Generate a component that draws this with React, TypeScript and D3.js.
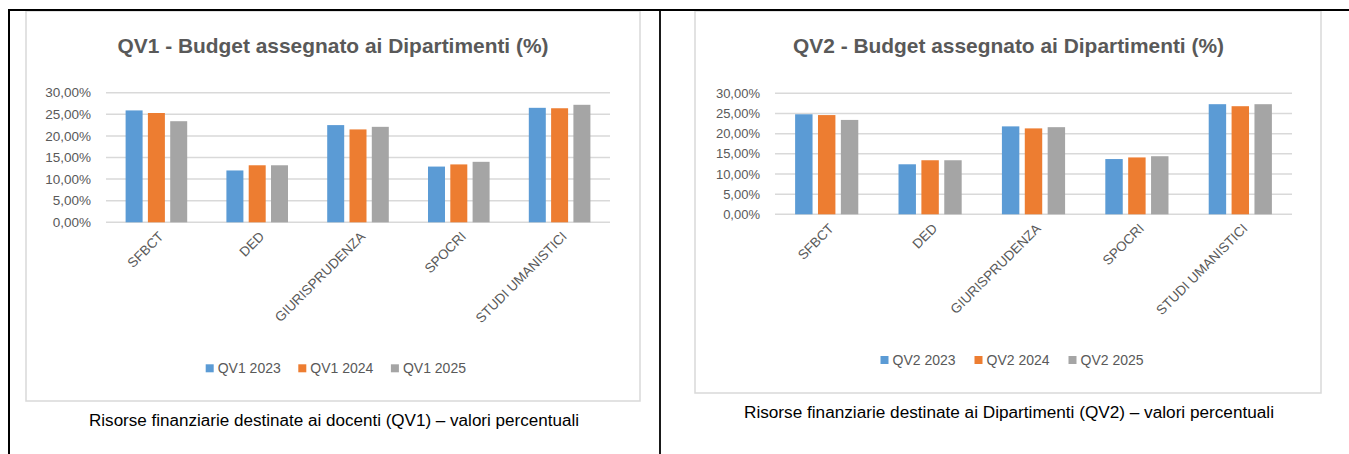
import { useEffect } from 'react';
import * as d3 from 'd3';

// categories and tick values shared by both charts
const categories = ['SFBCT', 'DED', 'GIURISPRUDENZA', 'SPOCRI', 'STUDI UMANISTICI'];
const yTicks = [0, 5, 10, 15, 20, 25, 30];

// QV1 (percent)
const qv1Series = ['QV1 2023', 'QV1 2024', 'QV1 2025'];
const qv1_2023 = [25.9, 12.0, 22.5, 12.9, 26.5];
const qv1_2024 = [25.3, 13.2, 21.5, 13.4, 26.4];
const qv1_2025 = [23.4, 13.2, 22.1, 14.0, 27.2];

// QV2 (percent)
const qv2Series = ['QV2 2023', 'QV2 2024', 'QV2 2025'];
const qv2_2023 = [24.8, 12.4, 21.8, 13.7, 27.3];
const qv2_2024 = [24.6, 13.4, 21.3, 14.1, 26.8];
const qv2_2025 = [23.4, 13.4, 21.6, 14.4, 27.3];

const colors = ['#5B9BD5', '#ED7D31', '#A5A5A5'];
const textGray = '#595959';
const gridGray = '#D9D9D9';
const font = '"Liberation Sans", Arial, sans-serif';

const it = d3.formatLocale({ decimal: ',', thousands: '.', grouping: [3], currency: ['', '€'] });
const fmt = it.format('.2f');

interface Layout {
  box: [number, number, number, number]; // x0, y0, x1, y1
  plotX: [number, number];
  plotY: [number, number]; // top (max), bottom (0)
  titleX: number;
  titleY: number;
  legendX: number; // first swatch x
  legendY: number; // swatch top
  legendStep: number;
  captionX: number;
  captionY: number;
  captionW: number;
  tickFont: number;
}

interface ChartProps {
  title: string;
  caption: string;
  series: string[];
  values: number[][];
  layout: Layout;
}

function BarChart({ title, caption, series, values, layout }: Readonly<ChartProps>) {
  const L = layout;
  const x0 = d3.scaleBand<string>().domain(categories).range(L.plotX).padding(0);
  const groupW = x0.bandwidth() * 0.611;
  const x1 = d3.scaleBand<string>().domain(series).range([0, groupW]).paddingInner(0.238);
  const y = d3.scaleLinear().domain([0, 30]).range([L.plotY[1], L.plotY[0]]);

  return (
    <g>
      <rect
        x={L.box[0]}
        y={L.box[1]}
        width={L.box[2] - L.box[0]}
        height={L.box[3] - L.box[1]}
        fill="#fff"
        stroke={gridGray}
        strokeWidth={1.5}
      />
      <text
        x={L.titleX}
        y={L.titleY}
        textAnchor="middle"
        fontFamily={font}
        fontWeight="bold"
        fontSize={20.5}
        fill={textGray}
        textLength={431}
        lengthAdjust="spacingAndGlyphs"
      >
        {title}
      </text>

      {yTicks.map((t) => (
        <g key={t}>
          <line x1={L.plotX[0]} x2={L.plotX[1]} y1={y(t)} y2={y(t)} stroke={gridGray} strokeWidth={1.5} />
          <text
            x={L.plotX[0] - 15}
            y={y(t)}
            dy="0.35em"
            textAnchor="end"
            fontFamily={font}
            fontSize={L.tickFont}
            fill={textGray}
          >
            {fmt(t) + '%'}
          </text>
        </g>
      ))}

      {categories.map((c, ci) => (
        <g key={c} transform={`translate(${(x0(c) ?? 0) + (x0.bandwidth() - groupW) / 2},0)`}>
          {series.map((s, si) => (
            <rect
              key={s}
              x={x1(s)}
              y={y(values[si][ci])}
              width={x1.bandwidth()}
              height={y(0) - y(values[si][ci])}
              fill={colors[si]}
            />
          ))}
        </g>
      ))}

      {categories.map((c) => (
        <text
          key={c}
          transform={`translate(${(x0(c) ?? 0) + x0.bandwidth() / 2 + 8},${y(0) + 15}) rotate(-45)`}
          textAnchor="end"
          fontFamily={font}
          fontSize={13.5}
          fill={textGray}
        >
          {c}
        </text>
      ))}

      {series.map((s, si) => (
        <g key={s} transform={`translate(${L.legendX + si * L.legendStep},${L.legendY})`}>
          <rect width={8} height={8} fill={colors[si]} />
          <text x={12} y={8.8} fontFamily={font} fontSize={14} fill={textGray}>
            {s}
          </text>
        </g>
      ))}

      <text
        x={L.captionX}
        y={L.captionY}
        textAnchor="middle"
        fontFamily={font}
        fontSize={16}
        fill="#000"
        textLength={L.captionW}
        lengthAdjust="spacingAndGlyphs"
      >
        {caption}
      </text>
    </g>
  );
}

const leftLayout: Layout = {
  box: [26, 11, 640, 401],
  plotX: [106, 610],
  plotY: [92.7, 222.3],
  titleX: 333,
  titleY: 52.5,
  legendX: 205.7,
  legendY: 364.3,
  legendStep: 92.6,
  captionX: 334,
  captionY: 425.5,
  captionW: 490,
  tickFont: 13.5,
};

const rightLayout: Layout = {
  box: [695, 11, 1321, 393],
  plotX: [775, 1292],
  plotY: [93.3, 214.3],
  titleX: 1008.5,
  titleY: 52.5,
  legendX: 880.5,
  legendY: 356,
  legendStep: 94,
  captionX: 1009,
  captionY: 417.5,
  captionW: 530,
  tickFont: 13,
};

export default function App() {
  useEffect(() => {
    document.body.style.margin = '0';
  }, []);

  return (
    <svg width={1349} height={454} style={{ position: 'absolute', left: 0, top: 0, background: '#fff' }}>
      <rect width={1349} height={454} fill="#fff" />
      <BarChart
        title="QV1 - Budget assegnato ai Dipartimenti (%)"
        caption="Risorse finanziarie destinate ai docenti (QV1) – valori percentuali"
        series={qv1Series}
        values={[qv1_2023, qv1_2024, qv1_2025]}
        layout={leftLayout}
      />
      <BarChart
        title="QV2 - Budget assegnato ai Dipartimenti (%)"
        caption="Risorse finanziarie destinate ai Dipartimenti (QV2) – valori percentuali"
        series={qv2Series}
        values={[qv2_2023, qv2_2024, qv2_2025]}
        layout={rightLayout}
      />
      {/* table borders */}
      <line x1={8} x2={1349} y1={10} y2={10} stroke="#000" strokeWidth={2} />
      <line x1={9} x2={9} y1={9} y2={454} stroke="#000" strokeWidth={2} />
      <line x1={660} x2={660} y1={9} y2={454} stroke="#000" strokeWidth={1.8} />
    </svg>
  );
}
